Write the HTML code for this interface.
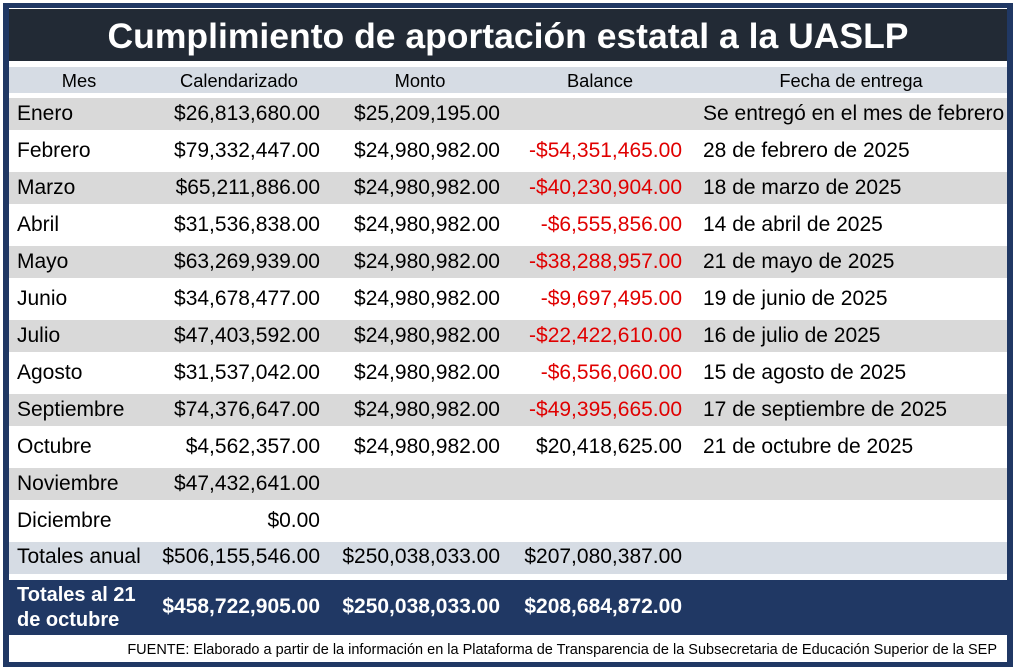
<!DOCTYPE html>
<html><head><meta charset="utf-8"><style>
*{margin:0;padding:0;box-sizing:border-box}
body{width:1021px;height:670px;background:#fff;position:relative;overflow:hidden;font-family:"Liberation Sans",sans-serif;}
.frame{position:absolute;left:3px;top:3px;width:1010px;height:664px;background:#203864;}
.inner{position:absolute;left:9px;top:8px;width:998px;height:654px;background:#fff;}
.title{position:absolute;left:9px;top:9px;width:998px;height:52px;background:#222a35;color:#fff;font-weight:bold;font-size:35.5px;text-align:center;line-height:54px;}
.hdr{position:absolute;left:9px;top:67px;width:998px;height:26px;background:#d6dce4;}
.band{position:absolute;left:9px;width:998px;height:32px;}
.t{position:absolute;font-size:21px;color:#000;white-space:nowrap;line-height:22px;}
.h{position:absolute;font-size:18.3px;color:#000;white-space:nowrap;transform:translateX(-50%);top:70px;}
.r{text-align:right}
.red{color:#e00000}
.navy{position:absolute;left:9px;top:580px;width:998px;height:55px;background:#203864;}
.w{color:#fff;font-weight:bold}
.src{position:absolute;right:24px;top:642px;font-size:14.5px;color:#000;white-space:nowrap;}
</style></head><body>
<div class="frame"></div><div class="inner"></div>
<div class="title">Cumplimiento de aportación estatal a la UASLP</div>
<div class="hdr"></div>
<div class="h" style="left:79px">Mes</div>
<div class="h" style="left:239px">Calendarizado</div>
<div class="h" style="left:420px">Monto</div>
<div class="h" style="left:600px">Balance</div>
<div class="h" style="left:851px">Fecha de entrega</div>

<div class="band" style="top:98px;background:#d9d9d9"></div>
<div class="band" style="top:172px;background:#d9d9d9"></div>
<div class="band" style="top:246px;background:#d9d9d9"></div>
<div class="band" style="top:320px;background:#d9d9d9"></div>
<div class="band" style="top:394px;background:#d9d9d9"></div>
<div class="band" style="top:468px;background:#d9d9d9"></div>
<div class="band" style="top:542px;background:#d6dce4"></div>
<div class="navy"></div>

<div class="t" style="left:17px;top:103px">Enero</div><div class="t r" style="right:701px;top:103px">$26,813,680.00</div><div class="t r" style="right:521px;top:103px">$25,209,195.00</div><div class="t" style="left:703px;top:103px">Se entregó en el mes de febrero</div>
<div class="t" style="left:17px;top:140px">Febrero</div><div class="t r" style="right:701px;top:140px">$79,332,447.00</div><div class="t r" style="right:521px;top:140px">$24,980,982.00</div><div class="t r red" style="right:339px;top:140px">-$54,351,465.00</div><div class="t" style="left:703px;top:140px">28 de febrero de 2025</div>
<div class="t" style="left:17px;top:177px">Marzo</div><div class="t r" style="right:701px;top:177px">$65,211,886.00</div><div class="t r" style="right:521px;top:177px">$24,980,982.00</div><div class="t r red" style="right:339px;top:177px">-$40,230,904.00</div><div class="t" style="left:703px;top:177px">18 de marzo de 2025</div>
<div class="t" style="left:17px;top:214px">Abril</div><div class="t r" style="right:701px;top:214px">$31,536,838.00</div><div class="t r" style="right:521px;top:214px">$24,980,982.00</div><div class="t r red" style="right:339px;top:214px">-$6,555,856.00</div><div class="t" style="left:703px;top:214px">14 de abril de 2025</div>
<div class="t" style="left:17px;top:251px">Mayo</div><div class="t r" style="right:701px;top:251px">$63,269,939.00</div><div class="t r" style="right:521px;top:251px">$24,980,982.00</div><div class="t r red" style="right:339px;top:251px">-$38,288,957.00</div><div class="t" style="left:703px;top:251px">21 de mayo de 2025</div>
<div class="t" style="left:17px;top:288px">Junio</div><div class="t r" style="right:701px;top:288px">$34,678,477.00</div><div class="t r" style="right:521px;top:288px">$24,980,982.00</div><div class="t r red" style="right:339px;top:288px">-$9,697,495.00</div><div class="t" style="left:703px;top:288px">19 de junio de 2025</div>
<div class="t" style="left:17px;top:325px">Julio</div><div class="t r" style="right:701px;top:325px">$47,403,592.00</div><div class="t r" style="right:521px;top:325px">$24,980,982.00</div><div class="t r red" style="right:339px;top:325px">-$22,422,610.00</div><div class="t" style="left:703px;top:325px">16 de julio de 2025</div>
<div class="t" style="left:17px;top:362px">Agosto</div><div class="t r" style="right:701px;top:362px">$31,537,042.00</div><div class="t r" style="right:521px;top:362px">$24,980,982.00</div><div class="t r red" style="right:339px;top:362px">-$6,556,060.00</div><div class="t" style="left:703px;top:362px">15 de agosto de 2025</div>
<div class="t" style="left:17px;top:399px">Septiembre</div><div class="t r" style="right:701px;top:399px">$74,376,647.00</div><div class="t r" style="right:521px;top:399px">$24,980,982.00</div><div class="t r red" style="right:339px;top:399px">-$49,395,665.00</div><div class="t" style="left:703px;top:399px">17 de septiembre de 2025</div>
<div class="t" style="left:17px;top:436px">Octubre</div><div class="t r" style="right:701px;top:436px">$4,562,357.00</div><div class="t r" style="right:521px;top:436px">$24,980,982.00</div><div class="t r" style="right:339px;top:436px">$20,418,625.00</div><div class="t" style="left:703px;top:436px">21 de octubre de 2025</div>
<div class="t" style="left:17px;top:473px">Noviembre</div><div class="t r" style="right:701px;top:473px">$47,432,641.00</div>
<div class="t" style="left:17px;top:510px">Diciembre</div><div class="t r" style="right:701px;top:510px">$0.00</div>
<div class="t" style="left:17px;top:546px">Totales anual</div><div class="t r" style="right:701px;top:546px">$506,155,546.00</div><div class="t r" style="right:521px;top:546px">$250,038,033.00</div><div class="t r" style="right:339px;top:546px">$207,080,387.00</div>
<div class="t w" style="left:17px;top:583px;font-size:20px;line-height:25px">Totales al 21<br>de octubre</div>
<div class="t r w" style="right:701px;top:596px">$458,722,905.00</div><div class="t r w" style="right:521px;top:596px">$250,038,033.00</div><div class="t r w" style="right:339px;top:596px">$208,684,872.00</div>
<div class="src">FUENTE: Elaborado a partir de la información en la Plataforma de Transparencia de la Subsecretaria de Educación Superior de la SEP</div>
</body></html>
